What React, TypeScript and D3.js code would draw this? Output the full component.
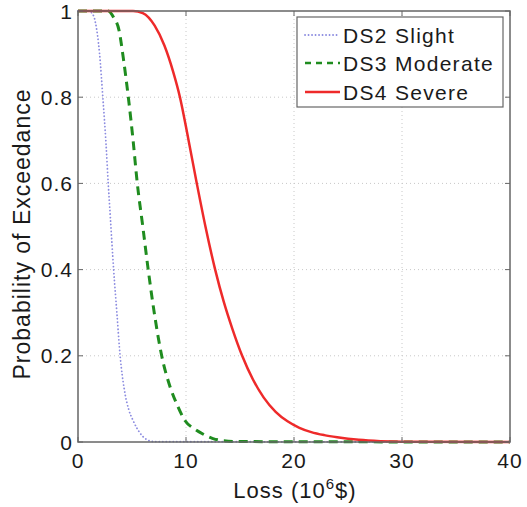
import React from "react";
import * as d3 from "d3";

const ds2Loss = [0, 1, 1.3, 1.6, 2, 2.3, 2.6, 2.8, 3, 3.3, 3.6, 3.9, 4.3, 4.7, 5.1, 5.5, 6, 6.5, 7, 40];
const ds2Prob = [1, 1, 0.995, 0.975, 0.9, 0.8, 0.69, 0.6, 0.52, 0.4, 0.3, 0.2, 0.12, 0.075, 0.05, 0.03, 0.013, 0.004, 0.001, 0];

const ds3Loss = [0, 2.8, 3.3, 3.8, 4.2, 4.66, 5.1, 5.49, 6, 6.5, 7, 7.75, 8.5, 9.2, 9.9, 10.8, 11.6, 12.5, 13.5, 15, 40];
const ds3Prob = [1, 1, 0.985, 0.955, 0.89, 0.8, 0.7, 0.6, 0.5, 0.4, 0.31, 0.2, 0.13, 0.085, 0.05, 0.03, 0.018, 0.008, 0.003, 0.001, 0];

const ds4Loss = [0, 5.1, 6, 7.1, 8, 8.8, 9.44, 10.2, 11, 11.8, 12.7, 13.5, 14.3, 15.2, 16.2, 17.2, 18.3, 19.4, 20.5, 21.6, 22.8, 24, 26, 28, 30, 40];
const ds4Prob = [1, 1, 0.995, 0.966, 0.92, 0.86, 0.8, 0.705, 0.6, 0.5, 0.4, 0.325, 0.262, 0.2, 0.145, 0.103, 0.07, 0.048, 0.033, 0.023, 0.016, 0.011, 0.005, 0.002, 0.0008, 0];

const xTicks = [0, 10, 20, 30, 40];
const yTicks = [0, 0.2, 0.4, 0.6, 0.8, 1];
const yTickLabels = ["0", "0.2", "0.4", "0.6", "0.8", "1"];
const seriesNames = ["DS2 Slight", "DS3 Moderate", "DS4 Severe"];

const W = 527, H = 507;
const L = 78, R = 510, T = 11, B = 442;
const FONT = "'Liberation Sans', Arial, Helvetica, sans-serif";

export default function App() {
  const x = d3.scaleLinear().domain([0, 40]).range([L, R]);
  const y = d3.scaleLinear().domain([0, 1]).range([B, T]);
  const line = d3
    .line<[number, number]>()
    .x((d) => x(d[0]))
    .y((d) => y(d[1]))
    .curve(d3.curveMonotoneX);

  const series = [
    { name: seriesNames[0], data: ds2Loss.map((v, i) => [v, ds2Prob[i]] as [number, number]), stroke: "#8c8ce0", width: 1.8, dash: "0.1,3.4", cap: "round" },
    { name: seriesNames[1], data: ds3Loss.map((v, i) => [v, ds3Prob[i]] as [number, number]), stroke: "#1f8c1f", width: 3, dash: "9,6", cap: "butt" },
    { name: seriesNames[2], data: ds4Loss.map((v, i) => [v, ds4Prob[i]] as [number, number]), stroke: "#ee2a2a", width: 2.5, dash: "", cap: "butt" },
  ];

  const legendRows = [35, 63, 92];

  return (
    <svg width={W} height={H} style={{ position: "absolute", left: 0, top: 0, background: "#fff" }} fontFamily={FONT}>
      <rect x={0} y={0} width={W} height={H} fill="#fff" />
      {xTicks.slice(1, -1).map((t) => (
        <line key={"gx" + t} x1={x(t)} x2={x(t)} y1={T} y2={B} stroke="#c8c8c8" strokeWidth={1} strokeDasharray="1,3" />
      ))}
      {yTicks.slice(1, -1).map((t) => (
        <line key={"gy" + t} x1={L} x2={R} y1={y(t)} y2={y(t)} stroke="#c8c8c8" strokeWidth={1} strokeDasharray="1,3" />
      ))}
      {series.map((s) => (
        <path key={s.name} d={line(s.data) || ""} fill="none" stroke={s.stroke} strokeWidth={s.width} strokeDasharray={s.dash || undefined} strokeLinecap={s.cap as any} />
      ))}
      <rect x={L} y={T} width={R - L} height={B - T} fill="none" stroke="#666" strokeWidth={1.5} />
      {xTicks.map((t) => (
        <g key={"xt" + t}>
          <line x1={x(t)} x2={x(t)} y1={B} y2={B - 5} stroke="#666" strokeWidth={1} />
          <line x1={x(t)} x2={x(t)} y1={T} y2={T + 5} stroke="#666" strokeWidth={1} />
          <text x={x(t)} y={468} textAnchor="middle" fontSize={21} letterSpacing={1} fill="#1a1a1a">{t}</text>
        </g>
      ))}
      {yTicks.map((t, i) => (
        <g key={"yt" + t}>
          <line x1={L} x2={L + 5} y1={y(t)} y2={y(t)} stroke="#666" strokeWidth={1} />
          <line x1={R} x2={R - 5} y1={y(t)} y2={y(t)} stroke="#666" strokeWidth={1} />
          <text x={73} y={y(t) + 7.5} textAnchor="end" fontSize={21} letterSpacing={1} fill="#1a1a1a">{yTickLabels[i]}</text>
        </g>
      ))}
      <text x={295} y={498} textAnchor="middle" fontSize={22} letterSpacing={1} fill="#1a1a1a">
        Loss (10<tspan dy={-9} fontSize={15}>6</tspan><tspan dy={9}>$)</tspan>
      </text>
      <text transform={`translate(30,234) rotate(-90)`} textAnchor="middle" fontSize={23} letterSpacing={1} fill="#1a1a1a">
        Probability of Exceedance
      </text>
      <rect x={297} y={17} width={206} height={90} fill="#fff" stroke="#666" strokeWidth={1.2} />
      {series.map((s, i) => (
        <g key={"lg" + s.name}>
          <line x1={305} x2={340} y1={legendRows[i]} y2={legendRows[i]} stroke={s.stroke} strokeWidth={s.width === 3 ? 2.5 : s.width} strokeDasharray={s.dash === "9,6" ? "6,5" : s.dash || undefined} strokeLinecap={s.cap as any} />
          <text x={343} y={legendRows[i] + 7.5} fontSize={21} letterSpacing={1.3} fill="#1a1a1a">{s.name}</text>
        </g>
      ))}
    </svg>
  );
}
